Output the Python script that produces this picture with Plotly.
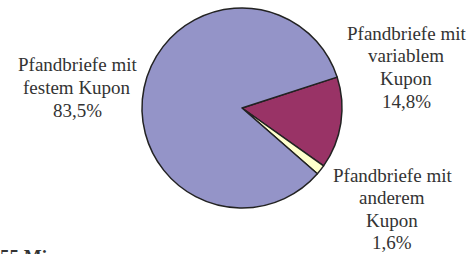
import plotly.graph_objects as go

categories = ["Pfandbriefe mit variablem Kupon", "Pfandbriefe mit anderem Kupon", "Pfandbriefe mit festem Kupon"]
label_lines = [
    ["Pfandbriefe mit", "variablem", "Kupon"],
    ["Pfandbriefe mit", "anderem", "Kupon"],
    ["Pfandbriefe mit", "festem Kupon"],
]
shares = [14.8, 1.6, 83.5]
colors = ["#993366", "#FFFFCC", "#9494C8"]
footer_text = "55 Mio"

W, H = 473, 254
fig = go.Figure()
cx, cy, r = 242, 108, 100
fig.add_trace(go.Pie(
    labels=categories, values=shares, sort=False, direction="clockwise",
    rotation=72, textinfo="none", hoverinfo="label+percent",
    marker=dict(colors=colors, line=dict(color="#222222", width=1.5)),
    domain=dict(x=[(cx - r) / W, (cx + r) / W], y=[1 - (cy + r) / H, 1 - (cy - r) / H]),
    showlegend=False,
))

# label block positions (pixel centre x, first line centre y, line step)
positions = [(406, 33, 22.7), (392, 175, 22.5), (77, 64, 23)]
font = dict(family="Liberation Serif, Times New Roman, serif", size=19, color="#333333")
for lines, v, (px, py, step) in zip(label_lines, shares, positions):
    all_lines = lines + [f"{v:.1f}".replace(".", ",") + "%"]
    for i, t in enumerate(all_lines):
        fig.add_annotation(x=px / W, y=1 - (py + i * step) / H, xref="paper", yref="paper",
                           text=t, showarrow=False, font=font, xanchor="center", yanchor="middle")

fig.add_annotation(x=-2 / W, y=1 - 244 / H, xref="paper", yref="paper", text="<b>" + footer_text + "</b>",
                   showarrow=False, font=dict(family="Liberation Serif, Times New Roman, serif", size=19, color="#333333"),
                   xanchor="left", yanchor="top")

fig.update_layout(width=W, height=H, margin=dict(l=0, r=0, t=0, b=0),
                  paper_bgcolor="white", plot_bgcolor="white")
fig.write_html("out.html", config={"displayModeBar": False},
               post_script="document.body.style.margin='0';document.body.style.overflow='hidden';")
